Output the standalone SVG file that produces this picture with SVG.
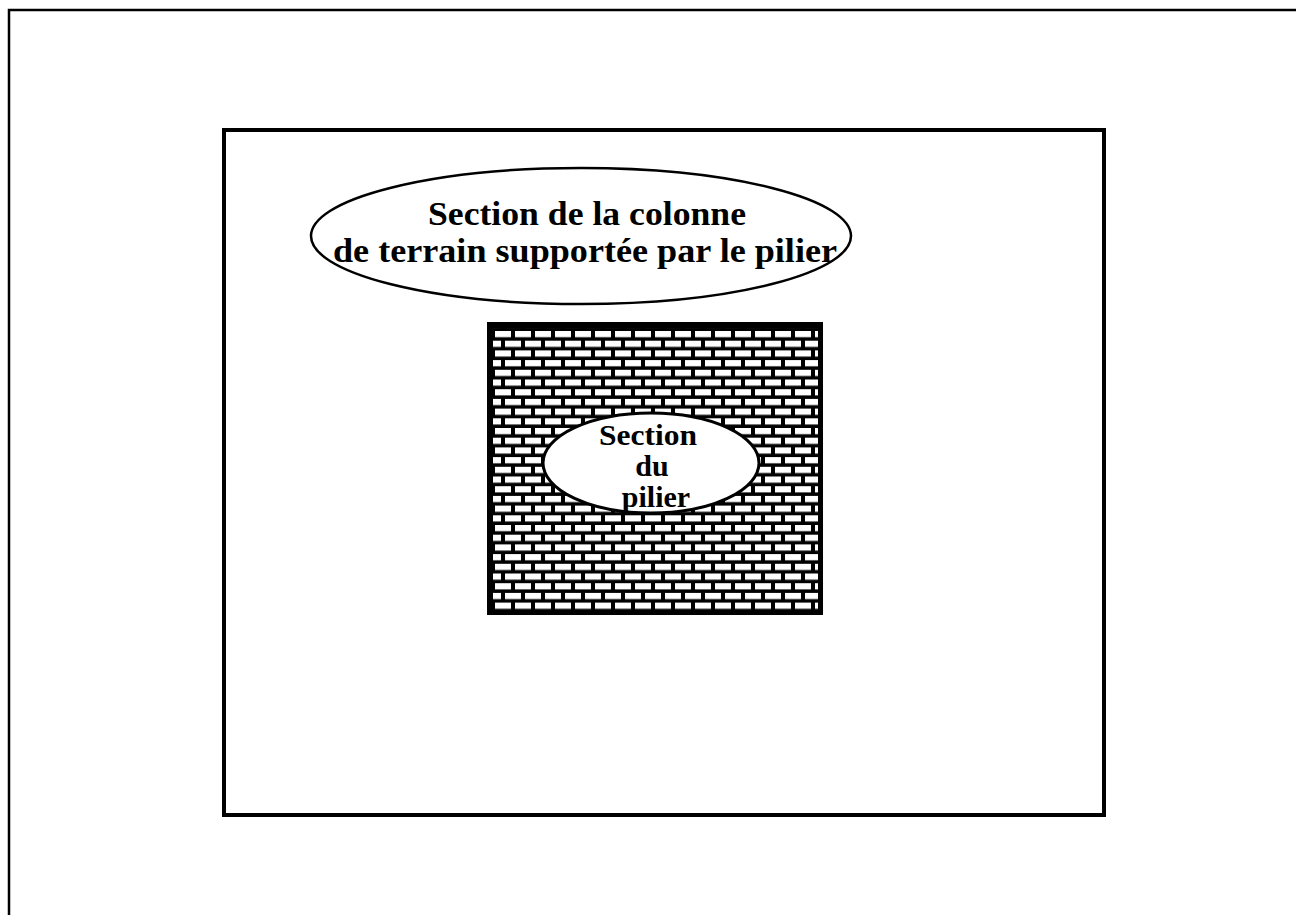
<svg xmlns="http://www.w3.org/2000/svg" width="1296" height="915" viewBox="0 0 1296 915">
<style>
.line{fill:none;stroke:#000}
.lbl{font-family:"Liberation Serif","Times New Roman",serif;font-weight:bold;fill:#000;text-anchor:middle}
</style>
<defs>
<pattern id="bricks" patternUnits="userSpaceOnUse" x="495" y="331" width="20" height="19.4">
<rect x="0" y="0" width="20" height="19.4" fill="#000"/>
<rect x="0" y="0" width="16" height="6.2" fill="#fff"/>
<rect x="-10" y="9.7" width="16" height="6.2" fill="#fff"/>
<rect x="10" y="9.7" width="16" height="6.2" fill="#fff"/>
</pattern>
</defs>
<rect width="1296" height="915" fill="#fff"/>
<g id="frame">
<path class="line" stroke-width="2.5" d="M9,915 V10 H1296"/>
</g>
<g id="panel">
<rect class="line" stroke-width="4" x="224" y="130" width="880" height="685"/>
</g>
<g id="column-section">
<ellipse class="line" stroke-width="2.5" cx="581" cy="236" rx="270" ry="68" fill="#fff"/>
<text class="lbl" font-size="34" x="587" y="225" textLength="318" lengthAdjust="spacingAndGlyphs">Section de la colonne</text>
<text class="lbl" font-size="34" x="585" y="262" textLength="504" lengthAdjust="spacingAndGlyphs">de terrain supportée par le pilier</text>
</g>
<g id="brick-square">
<rect x="487" y="322" width="336" height="293" fill="#000"/>
<rect x="493" y="328" width="325" height="282" fill="url(#bricks)"/>
</g>
<g id="pillar-section">
<ellipse cx="651" cy="463" rx="108" ry="50" fill="#fff" stroke="#000" stroke-width="3"/>
<text class="lbl" font-size="30" x="648" y="445" textLength="98" lengthAdjust="spacingAndGlyphs">Section</text>
<text class="lbl" font-size="30" x="652" y="476">du</text>
<text class="lbl" font-size="30" x="656" y="507">pilier</text>
</g>
<g id="connectors"/>
</svg>
